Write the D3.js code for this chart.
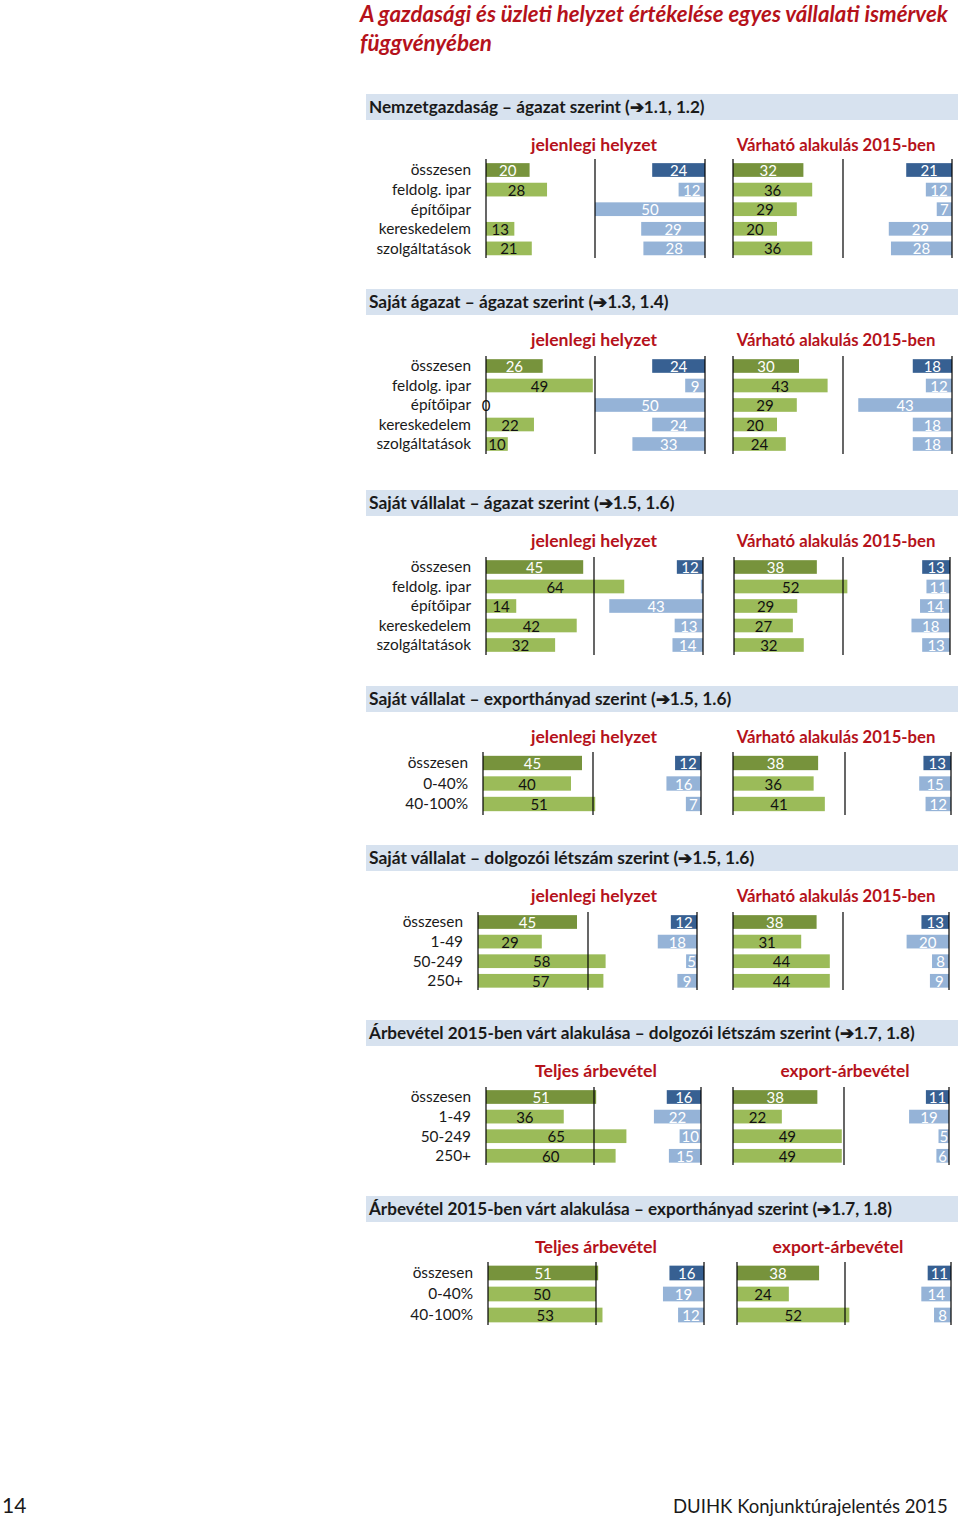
<!DOCTYPE html>
<html><head><meta charset="utf-8">
<script src="https://cdn.jsdelivr.net/npm/d3@7"></script>
<style>body{margin:0;background:#fff}svg{display:block}</style>
</head><body>
<script>
// ---------- text ----------
const titleLines = ["A gazdasági és üzleti helyzet értékelése egyes vállalati ismérvek", "függvényében"];
const footerLeft = "14";
const footerRight = "DUIHK Konjunktúrajelentés 2015";
const headers = [
  "Nemzetgazdaság – ágazat szerint (➔1.1, 1.2)",
  "Saját ágazat – ágazat szerint (➔1.3, 1.4)",
  "Saját vállalat – ágazat szerint (➔1.5, 1.6)",
  "Saját vállalat – exporthányad szerint (➔1.5, 1.6)",
  "Saját vállalat – dolgozói létszám szerint (➔1.5, 1.6)",
  "Árbevétel 2015-ben várt alakulása – dolgozói létszám szerint (➔1.7, 1.8)",
  "Árbevétel 2015-ben várt alakulása – exporthányad szerint (➔1.7, 1.8)"
];
const subtitlesSituation = ["jelenlegi helyzet", "Várható alakulás 2015-ben"];
const subtitlesRevenue = ["Teljes árbevétel", "export-árbevétel"];

// ---------- categories ----------
const sectorCats = ["összesen", "feldolg. ipar", "építőipar", "kereskedelem", "szolgáltatások"];
const exportCats = ["összesen", "0-40%", "40-100%"];
const sizeCats = ["összesen", "1-49", "50-249", "250+"];

// ---------- values (green = positive share, blue = negative share) ----------
const p1CurGreen = [20, 28, null, 13, 21];
const p1CurBlue  = [24, 12, 50, 29, 28];
const p1ExpGreen = [32, 36, 29, 20, 36];
const p1ExpBlue  = [21, 12, 7, 29, 28];

const p2CurGreen = [26, 49, 0, 22, 10];
const p2CurBlue  = [24, 9, 50, 24, 33];
const p2ExpGreen = [30, 43, 29, 20, 24];
const p2ExpBlue  = [18, 12, 43, 18, 18];

const p3CurGreen = [45, 64, 14, 42, 32];
const p3CurBlue  = [12, 1, 43, 13, 14];
const p3ExpGreen = [38, 52, 29, 27, 32];
const p3ExpBlue  = [13, 11, 14, 18, 13];

const p4CurGreen = [45, 40, 51];
const p4CurBlue  = [12, 16, 7];
const p4ExpGreen = [38, 36, 41];
const p4ExpBlue  = [13, 15, 12];

const p5CurGreen = [45, 29, 58, 57];
const p5CurBlue  = [12, 18, 5, 9];
const p5ExpGreen = [38, 31, 44, 44];
const p5ExpBlue  = [13, 20, 8, 9];

const p6TotGreen = [51, 36, 65, 60];
const p6TotBlue  = [16, 22, 10, 15];
const p6ExpGreen = [38, 22, 49, 49];
const p6ExpBlue  = [11, 19, 5, 6];

const p7TotGreen = [51, 50, 53];
const p7TotBlue  = [16, 19, 12];
const p7ExpGreen = [38, 24, 52];
const p7ExpBlue  = [11, 14, 8];

// ---------- layout (positions only) ----------
const panels = [
  {header: headers[0], hw: 336, subs: subtitlesSituation, cats: sectorCats,
   data: [[p1CurGreen, p1CurBlue], [p1ExpGreen, p1ExpBlue]],
   hy: 107, sy: 145, subX: [594, 836], subW: [126, 199], row0: 170, step: 19.6,
   charts: [[486, 595, 705], [733, 843, 952]], lt: 159, lb: 258},
  {header: headers[1], hw: 300, subs: subtitlesSituation, cats: sectorCats,
   data: [[p2CurGreen, p2CurBlue], [p2ExpGreen, p2ExpBlue]],
   hy: 302, sy: 340, subX: [594, 836], subW: [126, 199], row0: 366, step: 19.5,
   charts: [[486, 595, 705], [733, 843, 952]], lt: 356, lb: 454},
  {header: headers[2], hw: 306, subs: subtitlesSituation, cats: sectorCats,
   data: [[p3CurGreen, p3CurBlue], [p3ExpGreen, p3ExpBlue]],
   hy: 503, sy: 541, subX: [594, 836], subW: [126, 199], row0: 567, step: 19.5,
   charts: [[486, 594, 703], [734, 843, 950]], lt: 557, lb: 655},
  {header: headers[3], hw: 363, subs: subtitlesSituation, cats: exportCats,
   data: [[p4CurGreen, p4CurBlue], [p4ExpGreen, p4ExpBlue]],
   hy: 699, sy: 737, subX: [594, 836], subW: [126, 199], row0: 763, step: 20.5,
   charts: [[483, 593, 701], [733, 845, 951]], lt: 752, lb: 815},
  {header: headers[4], hw: 386, subs: subtitlesSituation, cats: sizeCats,
   data: [[p5CurGreen, p5CurBlue], [p5ExpGreen, p5ExpBlue]],
   hy: 858, sy: 896, subX: [594, 836], subW: [126, 199], row0: 922, step: 19.6,
   charts: [[478, 588, 697], [733, 843, 949]], lt: 912, lb: 990},
  {header: headers[5], hw: 546, subs: subtitlesRevenue, cats: sizeCats,
   data: [[p6TotGreen, p6TotBlue], [p6ExpGreen, p6ExpBlue]],
   hy: 1033, sy: 1071, subX: [596, 845], subW: [122, 129], row0: 1097, step: 19.6,
   charts: [[486, 594, 701], [733, 844, 949]], lt: 1087, lb: 1165},
  {header: headers[6], hw: 523, subs: subtitlesRevenue, cats: exportCats,
   data: [[p7TotGreen, p7TotBlue], [p7ExpGreen, p7ExpBlue]],
   hy: 1209, sy: 1247, subX: [596, 838], subW: [122, 131], row0: 1273, step: 21,
   charts: [[488, 596, 704], [737, 845, 951]], lt: 1262, lb: 1325}
];

const W = 960, H = 1516;
const FONT = "Lato, 'Open Sans', sans-serif";
const RED = "#B5121B";
const GREEN_DARK = "#77933C", GREEN = "#9BBB59", BLUE_DARK = "#376092", BLUE = "#95B3D7";

const svg = d3.select("body").append("svg").attr("width", W).attr("height", H)
  .style("font-family", FONT);

function fit(sel, target) {
  const node = sel.node();
  const w = node.getComputedTextLength();
  const fs = parseFloat(sel.attr("font-size"));
  if (w > 0) sel.attr("font-size", (fs * target / w).toFixed(2));
  return sel;
}

// title
const tt = svg.append("g");
fit(tt.append("text").attr("x", 360).attr("y", 22).attr("font-size", 22)
  .attr("font-weight", 700).attr("font-style", "italic").attr("fill", RED).text(titleLines[0]), 588);
fit(tt.append("text").attr("x", 360).attr("y", 51).attr("font-size", 22)
  .attr("font-weight", 700).attr("font-style", "italic").attr("fill", RED).text(titleLines[1]), 132);

panels.forEach(p => {
  const g = svg.append("g");
  // header band
  g.append("rect").attr("x", 366).attr("y", p.hy - 13).attr("width", 592).attr("height", 26)
    .attr("fill", "#D7E2EF");
  fit(g.append("text").attr("x", 369).attr("y", p.hy).attr("dy", "0.35em").attr("font-size", 17)
    .attr("font-weight", 700).attr("fill", "#1a1a1a").text(p.header), p.hw);

  const n = p.cats.length;
  const y = d3.scaleBand().domain(p.cats)
    .range([p.row0 - p.step / 2, p.row0 - p.step / 2 + n * p.step]).paddingInner(0.3).paddingOuter(0.15);

  // category labels via axis
  const ax = g.append("g").attr("transform", `translate(${p.charts[0][0] - 15},0)`)
    .call(d3.axisLeft(y).tickSize(0).tickPadding(0));
  ax.select(".domain").remove();
  ax.selectAll("text").attr("font-family", FONT).attr("font-size", 15.4).attr("fill", "#1a1a1a")
    .attr("dy", "0.35em");

  p.charts.forEach(([L, M, R], ci) => {
    // subtitle
    fit(g.append("text").attr("x", p.subX[ci]).attr("y", p.sy).attr("dy", "0.35em")
      .attr("text-anchor", "middle").attr("font-size", 17).attr("font-weight", 700)
      .attr("fill", RED).text(p.subs[ci]), p.subW[ci]);

    const xg = d3.scaleLinear().domain([0, 50]).range([L, M]);
    const xb = d3.scaleLinear().domain([0, 50]).range([R, M]);
    const [greens, blues] = p.data[ci];

    const rows = p.cats.map((c, i) => ({c, i, gv: greens[i], bv: blues[i]}));

    // bars
    g.selectAll(null).data(rows.filter(d => d.gv != null)).join("rect")
      .attr("x", xg(0)).attr("y", d => y(d.c)).attr("height", y.bandwidth())
      .attr("width", d => xg(d.gv) - xg(0))
      .attr("fill", d => d.i === 0 ? GREEN_DARK : GREEN);
    g.selectAll(null).data(rows.filter(d => d.bv != null)).join("rect")
      .attr("x", d => xb(d.bv)).attr("y", d => y(d.c)).attr("height", y.bandwidth())
      .attr("width", d => xb(0) - xb(d.bv))
      .attr("fill", d => d.i === 0 ? BLUE_DARK : BLUE);

    // axis lines
    g.selectAll(null).data([L, M, R]).join("line")
      .attr("x1", d => d).attr("x2", d => d).attr("y1", p.lt).attr("y2", p.lb)
      .attr("stroke", "#000").attr("stroke-width", 1.2);

    // labels
    const showLabel = v => v != null && !(v > 0 && v < 2);
    g.selectAll(null).data(rows.filter(d => showLabel(d.gv))).join("text")
      .attr("x", d => (xg(0) + xg(d.gv)) / 2).attr("y", d => y(d.c) + y.bandwidth() / 2)
      .attr("dy", "0.4em").attr("text-anchor", "middle").attr("font-size", 15)
      .attr("fill", d => d.i === 0 ? "#fff" : "#111").text(d => d.gv);
    g.selectAll(null).data(rows.filter(d => showLabel(d.bv))).join("text")
      .attr("x", d => (xb(0) + xb(d.bv)) / 2).attr("y", d => y(d.c) + y.bandwidth() / 2)
      .attr("dy", "0.4em").attr("text-anchor", "middle").attr("font-size", 15)
      .attr("fill", "#fff").text(d => d.bv);
  });
});

// footer
svg.append("text").attr("x", 2).attr("y", 1513).attr("font-size", 21).attr("fill", "#1a1a1a").text(footerLeft);
fit(svg.append("text").attr("x", 673).attr("y", 1513).attr("font-size", 19).attr("fill", "#1a1a1a")
  .text(footerRight), 275);
</script>
</body></html>
